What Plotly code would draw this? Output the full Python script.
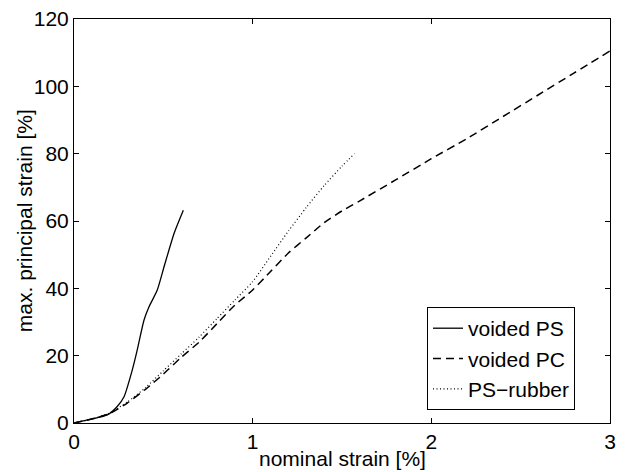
import plotly.graph_objects as go

# nominal strain [%] and max. principal strain [%] for each material
ps_x = [0.0, 0.1, 0.186, 0.242, 0.28, 0.326, 0.354, 0.392, 0.42, 0.466, 0.504, 0.56, 0.612]
ps_y = [0.0, 1.2, 2.4, 4.9, 7.8, 15.7, 21.7, 30.6, 34.5, 39.5, 46.4, 56.3, 63.2]

pc_x = [0.0, 0.1, 0.2, 0.3, 0.4, 0.5, 0.6, 0.7, 0.8, 0.9, 1.0, 1.1, 1.2, 1.3, 1.4, 1.5,
        1.6, 1.8, 2.0, 2.2, 2.4, 2.6, 2.8, 3.0]
pc_y = [0.0, 1.2, 2.8, 6.0, 10.0, 14.5, 19.5, 24.0, 29.5, 35.0, 39.5, 45.0, 50.5, 55.0,
        59.5, 63.0, 66.0, 72.2, 78.5, 84.5, 91.0, 97.5, 104.0, 110.5]

rub_x = [0.0, 0.1, 0.2, 0.3, 0.4, 0.5, 0.6, 0.7, 0.8, 0.9, 1.0, 1.1, 1.2, 1.3, 1.4, 1.5, 1.57]
rub_y = [0.0, 1.2, 3.0, 6.3, 10.5, 15.5, 20.5, 25.5, 31.0, 36.5, 42.0, 49.5, 57.0, 64.0,
         70.5, 76.3, 80.0]

x_ticks = [0, 1, 2, 3]
y_ticks = [0, 20, 40, 60, 80, 100, 120]

FONT = "Liberation Sans, Arial, Helvetica, sans-serif"
FS = 21

fig = go.Figure()
fig.add_trace(go.Scatter(x=ps_x, y=ps_y, mode="lines", name="voided PS",
                         line=dict(color="black", width=1.3, shape="spline", smoothing=0.6)))
fig.add_trace(go.Scatter(x=pc_x, y=pc_y, mode="lines", name="voided PC",
                         line=dict(color="black", width=1.5, dash="8px,5px",
                                   shape="spline", smoothing=0.6)))
fig.add_trace(go.Scatter(x=rub_x, y=rub_y, mode="lines", name="PS\u2212rubber",
                         line=dict(color="black", width=1.2, dash="1px,2.5px",
                                   shape="spline", smoothing=0.6)))

axis_common = dict(
    showgrid=False, zeroline=False, showline=True, linecolor="black", linewidth=1,
    mirror="ticks", ticks="inside", ticklen=5, tickcolor="black", tickwidth=1,
    tickfont=dict(family=FONT, size=FS, color="black"), automargin=False,
)

fig.update_layout(
    width=627, height=472,
    margin=dict(l=74, r=17, t=19, b=49),
    paper_bgcolor="white", plot_bgcolor="white",
    font=dict(family=FONT, size=FS, color="black"),
    showlegend=True,
    legend=dict(
        x=0.6586, y=0.287, xanchor="left", yanchor="top",
        bgcolor="white", bordercolor="black", borderwidth=1,
        font=dict(family=FONT, size=FS, color="black"),
        tracegroupgap=0,
    ),
    xaxis=dict(range=[0, 3], tickvals=x_ticks, ticktext=[str(v) for v in x_ticks],
               **axis_common),
    yaxis=dict(range=[0, 120], tickvals=y_ticks, ticktext=[str(v) for v in y_ticks],
               **axis_common),
    annotations=[
        dict(text="nominal strain [%]", xref="paper", yref="paper", x=0.5, y=-0.12,
             xanchor="center", yanchor="bottom", showarrow=False, borderpad=0,
             font=dict(family=FONT, size=FS, color="black")),
        dict(text="max. principal strain [%]", xref="paper", yref="paper",
             x=-0.093, y=0.5, xanchor="center", yanchor="middle", textangle=-90,
             showarrow=False, font=dict(family=FONT, size=FS, color="black")),
    ],
)

fig.write_html("out.html")
